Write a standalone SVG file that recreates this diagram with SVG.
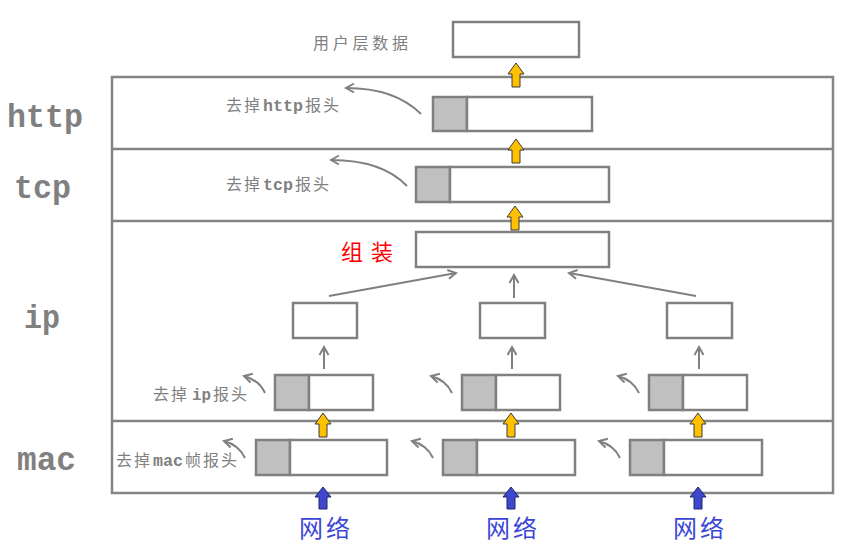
<svg xmlns="http://www.w3.org/2000/svg" width="858" height="544" viewBox="0 0 858 544">
<style>
.frame{fill:none;stroke:#858585;stroke-width:2.5}
.box{fill:#fff;stroke:#808080;stroke-width:2.5}
.hdr{fill:#c0c0c0;stroke:#808080;stroke-width:2.5}
.thin{fill:none;stroke:#808080;stroke-width:2}
.layer{font-family:"Liberation Mono","DejaVu Sans Mono",monospace;font-weight:bold;font-size:34px;fill:#808080}
.lbl{font-family:"Noto Sans CJK SC","Noto Sans",sans-serif;font-size:16px;fill:#808080}
.lat{font-family:"Liberation Mono","DejaVu Sans Mono",monospace;font-weight:bold;font-size:16px}
.net{font-family:"Noto Sans CJK SC",sans-serif;font-size:24px;fill:#3b47d6}
.red{font-family:"Noto Sans CJK SC",sans-serif;font-size:22px;fill:#ff0000}
.ya{fill:#ffc000;stroke:#3a3a3a;stroke-width:1}
.ba{fill:#3f48cc;stroke:#1d2470;stroke-width:1}
</style>
<defs>
<marker id="oh" markerUnits="userSpaceOnUse" markerWidth="14" markerHeight="14" refX="9" refY="5" orient="auto" viewBox="0 0 14 10">
<path d="M1,0.5 L9,5 L1,9.5" fill="none" stroke="#808080" stroke-width="2"/>
</marker>
<path id="blk" d="M0,0 L8,11 L4,11 L4,24 L-4,24 L-4,11 L-8,11 Z"/>
<path id="blkb" d="M0,0 L8,10 L4,10 L4,22 L-4,22 L-4,10 L-8,10 Z"/>
</defs>

<g id="frame">
<rect class="frame" x="112" y="77" width="721" height="416"/>
<line class="frame" x1="112" y1="149" x2="833" y2="149"/>
<line class="frame" x1="112" y1="221" x2="833" y2="221"/>
<line class="frame" x1="112" y1="421" x2="833" y2="421"/>
</g>

<g id="layer-labels">
<text class="layer" x="7" y="127" textLength="76" lengthAdjust="spacingAndGlyphs">http</text>
<text class="layer" x="14" y="198" textLength="57" lengthAdjust="spacingAndGlyphs">tcp</text>
<text class="layer" x="24" y="328" textLength="36" lengthAdjust="spacingAndGlyphs">ip</text>
<text class="layer" x="17" y="470" textLength="59" lengthAdjust="spacingAndGlyphs">mac</text>
</g>

<g id="user-data">
<rect class="box" x="453" y="22" width="126" height="35"/>
<text class="lbl" x="313" y="49" font-size="15" textLength="95" lengthAdjust="spacing">用户层数据</text>
</g>

<g id="http-packet">
<rect class="hdr" x="433" y="97" width="34" height="34"/>
<rect class="box" x="467" y="97" width="125" height="34"/>
<text class="lbl" y="111"><tspan x="226" letter-spacing="2">去掉</tspan><tspan class="lat" x="263" textLength="40" lengthAdjust="spacingAndGlyphs">http</tspan><tspan x="305" letter-spacing="2">报头</tspan></text>
</g>

<g id="tcp-packet">
<rect class="hdr" x="416" y="167" width="34" height="35"/>
<rect class="box" x="450" y="167" width="159" height="35"/>
<text class="lbl" y="190"><tspan x="226" letter-spacing="2">去掉</tspan><tspan class="lat" x="263" textLength="30" lengthAdjust="spacingAndGlyphs">tcp</tspan><tspan x="295" letter-spacing="2">报头</tspan></text>
</g>

<g id="assemble">
<rect class="box" x="416" y="232" width="193" height="35"/>
<text class="red" x="341" y="260" textLength="52" lengthAdjust="spacing">组装</text>
</g>

<g id="frag-1">
<rect class="box" x="293" y="303" width="64" height="35"/>
</g>
<g id="frag-2">
<rect class="box" x="480" y="303" width="65" height="35"/>
</g>
<g id="frag-3">
<rect class="box" x="667" y="303" width="65" height="35"/>
</g>

<g id="ip-packet-1">
<rect class="hdr" x="275" y="375" width="34" height="35"/>
<rect class="box" x="309" y="375" width="64" height="35"/>
<text class="lbl" y="400"><tspan x="153" letter-spacing="2">去掉</tspan><tspan class="lat" x="192" textLength="19" lengthAdjust="spacingAndGlyphs">ip</tspan><tspan x="213" letter-spacing="2">报头</tspan></text>
</g>
<g id="ip-packet-2">
<rect class="hdr" x="462" y="375" width="34" height="35"/>
<rect class="box" x="496" y="375" width="64" height="35"/>
</g>
<g id="ip-packet-3">
<rect class="hdr" x="649" y="375" width="34" height="35"/>
<rect class="box" x="683" y="375" width="64" height="35"/>
</g>

<g id="mac-frame-1">
<rect class="hdr" x="256" y="440" width="34" height="35"/>
<rect class="box" x="290" y="440" width="97" height="35"/>
<text class="lbl" y="466"><tspan x="116" letter-spacing="2">去掉</tspan><tspan class="lat" x="153" textLength="30" lengthAdjust="spacingAndGlyphs">mac</tspan><tspan x="185" letter-spacing="2">帧报头</tspan></text>
</g>
<g id="mac-frame-2">
<rect class="hdr" x="443" y="440" width="34" height="35"/>
<rect class="box" x="477" y="440" width="98" height="35"/>
</g>
<g id="mac-frame-3">
<rect class="hdr" x="630" y="440" width="34" height="35"/>
<rect class="box" x="664" y="440" width="98" height="35"/>
</g>

<g id="network-labels">
<text class="net" x="299" y="537" textLength="51" lengthAdjust="spacing">网络</text>
<text class="net" x="486" y="537" textLength="51" lengthAdjust="spacing">网络</text>
<text class="net" x="673" y="537" textLength="51" lengthAdjust="spacing">网络</text>
</g>

<g id="connectors">
<path class="thin" d="M421,114 Q395,88 346,88" marker-end="url(#oh)"/>
<path class="thin" d="M407,186 Q382,160 331,160" marker-end="url(#oh)"/>
<line class="thin" x1="329" y1="296" x2="456" y2="273" marker-end="url(#oh)"/>
<line class="thin" x1="514" y1="298" x2="514" y2="275" marker-end="url(#oh)"/>
<line class="thin" x1="696" y1="296" x2="569" y2="273" marker-end="url(#oh)"/>
<line class="thin" x1="324" y1="369" x2="324" y2="347" marker-end="url(#oh)"/>
<line class="thin" x1="512" y1="369" x2="512" y2="347" marker-end="url(#oh)"/>
<line class="thin" x1="699" y1="369" x2="699" y2="347" marker-end="url(#oh)"/>
<path class="thin" d="M265,393 Q259,380 244,376" marker-end="url(#oh)"/>
<path class="thin" d="M452,393 Q446,380 431,376" marker-end="url(#oh)"/>
<path class="thin" d="M639,393 Q633,380 618,376" marker-end="url(#oh)"/>
<path class="thin" d="M245,458 Q239,445 224,441" marker-end="url(#oh)"/>
<path class="thin" d="M433,458 Q427,445 412,441" marker-end="url(#oh)"/>
<path class="thin" d="M620,458 Q614,445 599,441" marker-end="url(#oh)"/>
<use href="#blk" class="ya" x="516" y="63"/>
<use href="#blk" class="ya" x="516" y="139"/>
<use href="#blk" class="ya" x="515" y="206"/>
<use href="#blk" class="ya" x="323" y="413"/>
<use href="#blk" class="ya" x="511" y="413"/>
<use href="#blk" class="ya" x="698" y="413"/>
<use href="#blkb" class="ba" x="323" y="487"/>
<use href="#blkb" class="ba" x="511" y="487"/>
<use href="#blkb" class="ba" x="698" y="487"/>
</g>
</svg>
